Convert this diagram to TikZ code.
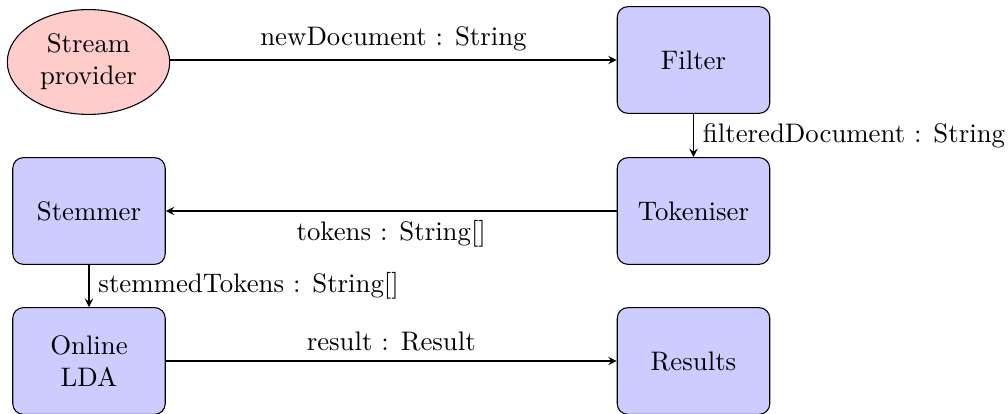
\documentclass[tikz,border=0pt]{standalone}
\usetikzlibrary{shapes.geometric,arrows}
\begin{document}
\begin{tikzpicture}[x=0.3731pt,y=-0.3731pt,
  box/.style={draw,fill=blue!20,rounded corners,minimum width=2cm,minimum height=1.4cm,align=center},
  src/.style={draw,ellipse,fill=red!20,align=center},
  flow/.style={-stealth}]
\useasboundingbox (0,0) rectangle (1008,414);
\node[src] (sp) at (88.5,62) {Stream\\provider};
\node[box] (filter) at (693.5,60) {Filter};
\node[box] (tok) at (693.5,211) {Tokeniser};
\node[box] (stem) at (89,211) {Stemmer};
\node[box] (lda) at (89,361) {Online\\LDA};
\node[box] (res) at (693.5,361) {Results};
\draw[flow] (sp.east |- filter.west) -- node[above] {newDocument : String} (filter.west);
\draw[flow] (filter) -- node[right] {filteredDocument : String} (tok);
\draw[flow] (tok) -- node[below] {tokens : String[]} (stem);
\draw[flow] (stem) -- node[right] {stemmedTokens : String[]} (lda);
\draw[flow] (lda) -- node[above] {result : Result} (res);
\end{tikzpicture}
\end{document}
